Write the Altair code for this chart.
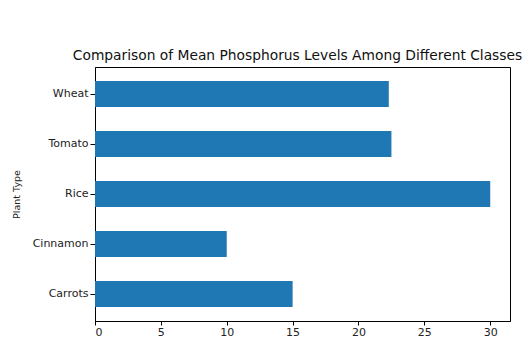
import altair as alt
import pandas as pd

plants = ["Wheat", "Tomato", "Rice", "Cinnamon", "Carrots"]
phosphorus = [22.3, 22.5, 30.0, 10.0, 15.0]
x_ticks = [0, 5, 10, 15, 20, 25, 30]

df = pd.DataFrame({"Plant Type": plants, "Phosphorus": phosphorus})

font = "DejaVu Sans"

chart = alt.Chart(df).mark_bar(color="#1f77b4").encode(
    y=alt.Y(
        "Plant Type:N",
        sort=plants,
        scale=alt.Scale(paddingInner=0.48, paddingOuter=0.28),
        axis=alt.Axis(
            title="Plant Type",
            titleFont=font,
            titleFontSize=9.5,
            titleFontWeight="normal",
            titleColor="#222",
            titlePadding=11,
            labelFont=font,
            labelFontSize=11,
            labelColor="#222",
            tickColor="black",
            tickSize=5,
            labelPadding=2,
            domainColor="black",
        ),
    ),
    x=alt.X(
        "Phosphorus:Q",
        scale=alt.Scale(domain=[0, 31.5], nice=False, zero=True),
        axis=alt.Axis(
            title=None,
            values=x_ticks,
            grid=False,
            labelFont=font,
            labelFontSize=11,
            labelColor="#222",
            tickColor="black",
            tickSize=4,
            labelPadding=1,
            domainColor="black",
        ),
    ),
).properties(
    width=415,
    height=254,
    title=alt.TitleParams(
        "Comparison of Mean Phosphorus Levels Among Different Classes",
        font=font,
        fontSize=13.8,
        fontWeight="normal",
        color="#111",
        offset=4,
        dx=-5,
        anchor="middle",
    ),
    autosize=alt.AutoSizeParams(type="none"),
    padding={"left": 87, "top": 59, "right": 12, "bottom": 16},
).configure_view(
    stroke="black", strokeWidth=1
).configure_axis(grid=False)

chart.save("out.html", embed_options={"renderer": "svg", "actions": False})
